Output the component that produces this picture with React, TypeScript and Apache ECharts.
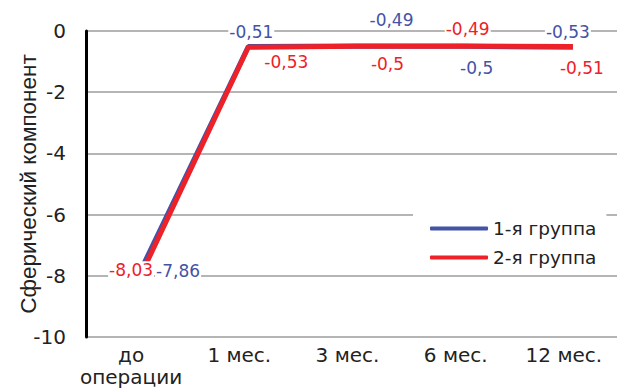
import React, { useEffect, useRef } from "react";
import * as echarts from "echarts";

// Spherical component by follow-up period for two patient groups
const categories = ["до\nоперации", "1 мес.", "3 мес.", "6 мес.", "12 мес."];
const group1 = [-7.86, -0.51, -0.49, -0.5, -0.53];
const group2 = [-8.03, -0.53, -0.5, -0.49, -0.51];
const seriesNames = ["1-я группа", "2-я группа"];
const yTicks = { min: -10, max: 0, interval: 2 };

// hand-placed label offsets [dx, dy] so the two groups' labels don't collide
const offsets1: [number, number][] = [[38, -1], [3, -15], [35, -26], [12, 22], [-5, -15]];
const offsets2: [number, number][] = [[-9, -7], [38, 15], [31, 18], [3, -17], [9, 21]];

const BLUE = "#4353a6";
const RED = "#ee2028";
const FONT = "'DejaVu Sans', sans-serif";

const fmt = (v: number) => String(v).replace(".", ",");

function buildData(values: number[], offs: [number, number][]) {
  return values.map((v, i) => ({ value: v, label: { offset: offs[i] } }));
}

export default function App() {
  const ref = useRef<HTMLDivElement>(null);

  useEffect(() => {
    document.body.style.margin = "0";
    if (!ref.current) return;
    const chart = echarts.init(ref.current, undefined, { renderer: "svg" });

    const labelBase = (color: string) => ({
      show: true,
      position: "inside" as const,
      fontFamily: FONT,
      fontSize: 17,
      color,
      backgroundColor: "#fff",
      padding: [0, 1],
      formatter: (p: any) => fmt(p.value),
    });

    chart.setOption({
      animation: false,
      textStyle: { fontFamily: FONT },
      grid: { left: 86, right: -10, top: 31, bottom: 52, outerBoundsMode: "none", containLabel: false },
      legend: {
        orient: "vertical",
        left: 413,
        top: 210,
        padding: [9, 10, 8, 17],
        backgroundColor: "#fff",
        itemWidth: 58,
        itemHeight: 4,
        itemGap: 10,
        icon: "roundRect",
        textStyle: { fontFamily: FONT, fontSize: 18.5, color: "#222" },
        data: seriesNames,
      },
      xAxis: {
        type: "category",
        data: categories,
        boundaryGap: true,
        axisLine: { show: false },
        axisTick: { show: false },
        axisLabel: {
          interval: 0,
          fontFamily: FONT,
          fontSize: 20,
          color: "#222",
          margin: 7,
          lineHeight: 22,
          padding: [0, 18, 0, 0],
        },
      },
      yAxis: {
        type: "value",
        min: yTicks.min,
        max: yTicks.max,
        interval: yTicks.interval,
        name: "Сферический компонент",
        nameLocation: "middle",
        nameGap: 46,
        nameMoveOverlap: false,
        nameTextStyle: { fontFamily: "'Liberation Sans', Arial, sans-serif", fontSize: 22.5, color: "#222" },
        axisLine: { show: true, lineStyle: { color: "#000", width: 3 } },
        axisTick: { show: false },
        axisLabel: { fontFamily: FONT, fontSize: 20, color: "#222", margin: 20 },
        splitLine: { show: true, lineStyle: { color: "#b5b5b5", width: 2 } },
      },
      series: [
        {
          name: seriesNames[0],
          type: "line",
          data: buildData(group1, offsets1),
          symbol: "circle",
          symbolSize: 0,
          showSymbol: true,
          color: BLUE,
          lineStyle: { color: BLUE, width: 5 },
          label: labelBase(BLUE),
          z: 2,
        },
        {
          name: seriesNames[1],
          type: "line",
          data: buildData(group2, offsets2),
          symbol: "circle",
          symbolSize: 0,
          showSymbol: true,
          color: RED,
          lineStyle: { color: RED, width: 5 },
          label: labelBase(RED),
          z: 3,
        },
      ],
    });

    return () => chart.dispose();
  }, []);

  return <div ref={ref} style={{ width: 617, height: 389 }} />;
}
